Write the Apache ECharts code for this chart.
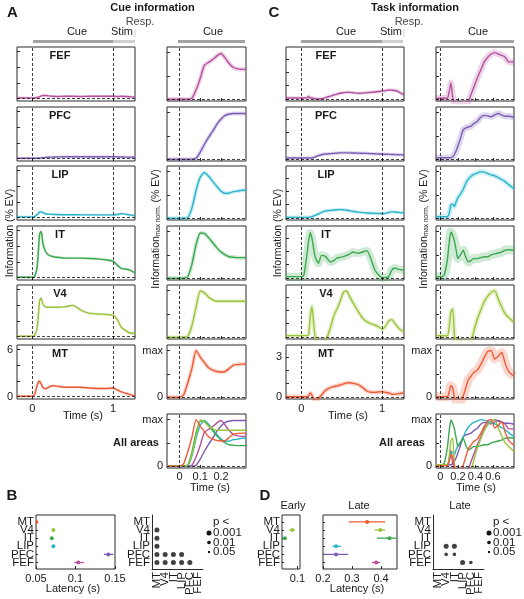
<!DOCTYPE html>
<html>
<head>
<meta charset="utf-8">
<script src="https://cdn.jsdelivr.net/npm/echarts@6.0.0/dist/echarts.min.js"></script>
<style>
html,body{margin:0;padding:0;background:#fff;}
#chart{width:524px;height:599px;}
</style>
</head>
<body>
<div id="chart"></div>
<script>
// ================= DATA =================
const areaNames = ['FEF','PFC','LIP','IT','V4','MT'];            // panel rows, top -> bottom
const areaColors = ['#b5509d','#7a5cb5','#2bb5cb','#3aa84f','#9bc43c','#ee5a36'];
const latencyAreas = ['MT','V4','IT','LIP','PFC','FEF'];         // latency / matrix rows
const latencyColors = ['#ee5a36','#9bc43c','#3aa84f','#2bb5cb','#7a5cb5','#b5509d'];

// --- Cue information, full trial (% EV)
const cueLongT   = [-0.19,0,0.03,0.06,0.09,0.11,0.13,0.16,0.2,0.25,0.3,0.4,0.5,0.6,0.7,0.8,0.9,1.0,1.05,1.1,1.15,1.2,1.27];
const cueLongFEF = [0.1,0.1,0.1,0.15,0.25,0.35,0.4,0.4,0.35,0.3,0.28,0.3,0.3,0.28,0.3,0.3,0.3,0.3,0.28,0.3,0.28,0.25,0.2];
const cueLongPFC = [0.05,0.05,0.05,0.05,0.08,0.1,0.12,0.15,0.18,0.2,0.22,0.25,0.25,0.25,0.25,0.25,0.25,0.25,0.22,0.22,0.2,0.2,0.18];
const cueLongLIP = [0.1,0.1,0.15,0.4,0.7,0.75,0.65,0.5,0.45,0.42,0.4,0.38,0.38,0.36,0.36,0.35,0.35,0.35,0.4,0.5,0.45,0.35,0.25];
const cueLongIT  = [0.05,0.05,0.2,1.4,5.6,5.9,4.4,3.4,2.9,2.7,2.6,2.5,2.5,2.5,2.45,2.4,2.3,2.1,1.6,1.2,1.1,1.0,0.6];
const cueLongV4  = [0.05,0.05,0.2,1.2,4.6,4.9,4.2,3.8,3.75,3.75,3.75,3.8,4.0,3.4,3.0,2.9,2.85,2.75,2.2,1.2,0.8,0.5,0.4];
const cueLongMT  = [0.05,0.05,0.3,1.5,2.0,1.6,1.2,1.0,1.2,1.4,1.35,1.2,1.2,1.2,1.1,1.05,1.05,1.1,0.85,0.6,0.45,0.3,0.1];

// --- Cue information, cue epoch (max-normalised)
const cueShortT   = [-0.06,0,0.02,0.04,0.06,0.08,0.1,0.12,0.14,0.16,0.18,0.2,0.22,0.24,0.26,0.28,0.3,0.32];
const cueShortFEF = [0,0,0,0,0.02,0.2,0.45,0.73,0.79,0.85,0.93,0.98,0.88,0.76,0.68,0.65,0.64,0.64];
const cueShortPFC = [0,0,0,0,0,0.02,0.15,0.32,0.47,0.6,0.75,0.86,0.94,0.97,0.98,0.98,0.98,0.98];
const cueShortLIP = [0,0,0,0.01,0.22,0.6,0.88,0.98,0.9,0.79,0.68,0.58,0.53,0.54,0.57,0.58,0.6,0.6];
const cueShortIT  = [0,0,0,0.03,0.3,0.72,0.97,0.96,0.87,0.76,0.65,0.56,0.5,0.46,0.45,0.44,0.44,0.44];
const cueShortV4  = [0,0,0,0.02,0.25,0.65,0.99,0.95,0.86,0.8,0.77,0.77,0.77,0.77,0.77,0.77,0.77,0.77];
const cueShortMT  = [0,0,0.05,0.31,0.62,1.0,0.86,0.74,0.63,0.58,0.55,0.54,0.55,0.62,0.69,0.7,0.71,0.71];

// --- Task information, full trial (% EV)
const taskLongT   = [-0.19,0,0.03,0.07,0.09,0.11,0.13,0.15,0.17,0.21,0.25,0.3,0.36,0.4,0.44,0.48,0.52,0.56,0.6,0.64,0.7,0.76,0.81,0.86,0.91,0.96,1.0,1.04,1.08,1.12,1.16,1.2,1.27];
const taskLongFEF = [0.07,0.07,0.07,0.08,0.2,0.07,0.08,0.05,0.03,0.0,0.02,0.1,0.22,0.3,0.37,0.43,0.47,0.5,0.5,0.47,0.43,0.44,0.48,0.5,0.52,0.56,0.6,0.62,0.68,0.66,0.64,0.55,0.3];
const taskLongPFC = [0.07,0.07,0.07,0.07,0.07,0.07,0.08,0.1,0.15,0.25,0.32,0.37,0.4,0.42,0.44,0.46,0.46,0.46,0.46,0.45,0.44,0.43,0.42,0.4,0.39,0.38,0.37,0.36,0.35,0.34,0.33,0.32,0.3];
const taskLongLIP = [0.05,0.05,0.05,0.05,0.05,0.06,0.1,0.15,0.2,0.3,0.42,0.53,0.57,0.6,0.62,0.63,0.62,0.58,0.54,0.5,0.44,0.4,0.38,0.36,0.35,0.34,0.34,0.35,0.42,0.46,0.45,0.42,0.39];
const taskLongIT  = [0.1,0.1,0.2,1.8,2.8,3.4,3.0,2.3,1.6,1.1,1.7,1.6,1.2,1.3,1.5,1.55,1.6,1.7,1.8,1.95,1.85,1.95,2.05,1.45,0.6,0.2,0.0,0.05,0.1,0.6,0.75,0.65,0.6];
const taskLongV4  = [0.1,0.1,0.1,0.1,0.2,1.5,2.3,1.2,0.1,-0.5,-0.5,-0.3,0.7,1.56,2.1,2.66,3.35,3.45,3.0,2.56,1.95,1.4,1.15,1.0,0.9,0.75,0.59,0.8,1.2,1.3,1.0,0.7,0.34];
const taskLongMT  = [0.02,0.02,0.02,0.02,0.1,0.3,0.15,-0.2,-0.3,-0.1,0.15,0.5,0.7,0.78,0.83,0.9,0.98,1.05,1.07,1.02,0.95,0.7,0.45,0.36,0.35,0.38,0.4,0.35,0.3,0.22,0.2,0.25,0.3];

// --- Task information, cue epoch (max-normalised)
const taskShortT   = [-0.05,0,0.04,0.08,0.1,0.12,0.14,0.16,0.18,0.2,0.23,0.26,0.29,0.32,0.35,0.38,0.42,0.46,0.5,0.54,0.58,0.62,0.66,0.7,0.74,0.78,0.84];
const taskShortFEF = [0.02,0.02,0.02,0.02,0.15,0.35,0.05,-0.1,-0.1,-0.1,-0.1,-0.1,-0.1,-0.05,0.1,0.25,0.45,0.62,0.8,0.9,0.97,1.0,0.97,0.94,0.9,0.8,0.8];
const taskShortPFC = [0.03,0.03,0.03,0.03,0.03,0.03,0.05,0.1,0.18,0.28,0.45,0.63,0.67,0.69,0.71,0.76,0.81,0.9,0.94,0.93,0.91,0.95,0.98,0.95,0.92,0.92,0.9];
const taskShortLIP = [0.03,0.03,0.03,0.03,0.1,0.28,0.3,0.25,0.35,0.44,0.52,0.62,0.75,0.84,0.9,0.94,0.97,1.0,0.99,0.96,0.93,0.91,0.87,0.83,0.78,0.72,0.63];
const taskShortIT  = [0.03,0.03,0.05,0.4,0.75,0.99,0.92,0.8,0.6,0.42,0.5,0.6,0.45,0.35,0.38,0.42,0.42,0.44,0.46,0.46,0.5,0.52,0.54,0.56,0.6,0.61,0.6];
const taskShortV4  = [0.03,0.03,0.03,0.03,0.2,0.55,0.6,0.05,-0.1,-0.1,-0.1,-0.1,-0.1,-0.1,-0.1,0.12,0.38,0.58,0.76,0.88,0.96,1.0,0.82,0.65,0.5,0.42,0.31];
const taskShortMT  = [0.01,0.01,0.01,0.01,0.1,0.25,0.2,0.0,-0.1,-0.1,-0.1,0.02,0.2,0.38,0.45,0.53,0.58,0.7,0.85,0.98,1.0,0.82,0.88,0.96,0.72,0.55,0.45];

// --- Latencies (s): order of latencyAreas
const cueLatency     = [0.0505,0.072,0.070,0.072,0.1415,0.1035];
const cueLatencyLo   = [0.0500,0.0712,0.0692,0.0712,0.136,0.0985];
const cueLatencyHi   = [0.0510,0.0728,0.0708,0.0728,0.148,0.1105];
const earlyLatency   = [null,0.082,0.057,null,null,null];
const earlyLatencyLo = [null,0.072,0.053,null,null,null];
const earlyLatencyHi = [null,0.091,0.061,null,null,null];
const lateLatency    = [0.352,0.397,0.429,0.245,0.245,0.383];
const lateLatencyLo  = [0.289,0.377,0.386,0.232,0.202,0.369];
const lateLatencyHi  = [0.414,0.414,0.47,0.262,0.287,0.397];

// --- Significance matrices: [columnArea, rowArea, level] (level 1: p<0.001, 2: p<0.01, 3: p<0.05)
const cueSignificance  = [[0,1,1],[0,2,1],[0,3,1],[0,4,1],[1,4,1],[2,4,1],[3,4,1],[0,5,1],[1,5,1],[2,5,1],[3,5,1],[4,5,1]];
const taskSignificance = [[1,3,1],[2,3,1],[1,4,2],[2,4,2],[3,5,1],[4,5,2]];
const pLevels = ['0.001','0.01','0.05'];

// ================= LAYOUT / STYLE =================
const FONT = "'Liberation Sans', Arial, Helvetica, sans-serif";
const NARROW = "'Liberation Sans Narrow', 'Liberation Sans', Arial, sans-serif";
const INK = '#1a1a1a';
const BORDER = '#2a2a2a';
const rowTops = [47,107,166,226,285,345];
const rowH = 54;
const allTop = 414;
const cols = [{left:17,width:118},{left:167,width:79},{left:286,width:118},{left:436,width:78}];
const dotSizes = [5,3.6,2.4];

const grids = [], xAxes = [], yAxes = [], series = [], graphic = [];

function baseAxis(extra){
  return Object.assign({type:'value', splitLine:{show:false}, axisLine:{show:false,onZero:false}, axisTick:{show:false}, axisLabel:{show:false}}, extra);
}
function addGrid(left, top, width, height, showBorder, xa, ya){
  const gi = grids.length;
  grids.push({left, top, width, height, show:showBorder, borderColor:BORDER, borderWidth:1,
              backgroundColor:'rgba(0,0,0,0)', containLabel:false, outerBoundsMode:'none'});
  xAxes.push(Object.assign(baseAxis(xa), {gridIndex:gi, position:'bottom'}));
  yAxes.push(Object.assign(baseAxis(ya), {gridIndex:gi, position:'left'}));
  return gi;
}
function ticks(vals, len){ return {show:true, inside:true, length:len||3, customValues:vals, lineStyle:{color:BORDER,width:1}}; }
function labels(vals, fmt, extra){
  return Object.assign({show:true, customValues:vals, formatter:fmt, fontSize:11, fontFamily:FONT, color:INK, margin:4,
                        showMinLabel:true, showMaxLabel:true, hideOverlap:false}, extra||{});
}
const fmtNum = v => String(parseFloat(Number(v).toFixed(3)));
const fmtMax = v => (v > 0.5 ? 'max' : '0');

function refLines(vx){
  return {silent:true, symbol:['none','none'], animation:false, label:{show:false},
          lineStyle:{color:'#111', type:[3,2], width:0.8},
          data: vx.map(x => ({xAxis:x})).concat([{yAxis:0}])};
}
function addCurve(gi, t, v, color, bandW, vlines){
  const data = t.map((x,i) => [x, v[i]]);
  if (bandW) series.push({type:'line', xAxisIndex:gi, yAxisIndex:gi, data, symbol:'none', smooth:0.2,
      silent:true, animation:false, z:1, lineStyle:{color, width:bandW, opacity:0.24, cap:'butt', join:'round'}});
  const s = {type:'line', xAxisIndex:gi, yAxisIndex:gi, data, symbol:'none', smooth:0.2,
      silent:true, animation:false, z:3, lineStyle:{color, width:1.4, join:'round'}, itemStyle:{color}};
  if (vlines) s.markLine = refLines(vlines);
  series.push(s);
}

const timePanels = [
  {col:0, t:cueLongT, v:[cueLongFEF,cueLongPFC,cueLongLIP,cueLongIT,cueLongV4,cueLongMT],
   xr:[-0.19,1.27], yr:[-0.3,6.6], xTicks:[0,1], yTicks:[0,2,4,6], yLabels:[0,6], yFmt:fmtNum,
   vlines:[0,1], band:[2.5,2.5,2.5,2.5,2.5,2.5], long:true},
  {col:1, t:cueShortT, v:[cueShortFEF,cueShortPFC,cueShortLIP,cueShortIT,cueShortV4,cueShortMT],
   xr:[-0.06,0.32], yr:[-0.04,1.12], xTicks:[0,0.1,0.2], yTicks:[0,0.5,1], yLabels:[0,1], yFmt:fmtMax,
   vlines:[0], band:[4.5,4,4,4,4,4], long:false},
  {col:2, t:taskLongT, v:[taskLongFEF,taskLongPFC,taskLongLIP,taskLongIT,taskLongV4,taskLongMT],
   xr:[-0.19,1.27], yr:[-0.15,3.9], xTicks:[0,1], yTicks:[0,1,2,3], yLabels:[0,3], yFmt:fmtNum,
   vlines:[0,1], band:[3.5,3.5,3.5,8,4.5,4.5], long:true},
  {col:3, t:taskShortT, v:[taskShortFEF,taskShortPFC,taskShortLIP,taskShortIT,taskShortV4,taskShortMT],
   xr:[-0.05,0.84], yr:[-0.04,1.12], xTicks:[0,0.2,0.4,0.6], yTicks:[0,0.5,1], yLabels:[0,1], yFmt:fmtMax,
   vlines:[0], band:[6.5,6.5,5,9,5,9], long:false}
];

timePanels.forEach(p => {
  const c = cols[p.col];
  areaNames.forEach((name, r) => {
    const last = r === areaNames.length - 1;
    const gi = addGrid(c.left, rowTops[r], c.width, rowH, true,
      {min:p.xr[0], max:p.xr[1], axisTick:ticks(p.xTicks),
       axisLabel:(last && p.long) ? labels(p.xTicks, fmtNum) : {show:false}},
      {min:p.yr[0], max:p.yr[1], axisTick:ticks(p.yTicks),
       axisLabel:last ? labels(p.yLabels, p.yFmt) : {show:false}});
    addCurve(gi, p.t, p.v[r], areaColors[r], p.band[r], p.vlines);
  });
  if (!p.long) {
    const gi = addGrid(c.left, allTop, c.width, rowH, true,
      {min:p.xr[0], max:p.xr[1], axisTick:ticks(p.xTicks), axisLabel:labels(p.xTicks, fmtNum, {margin:3})},
      {min:p.yr[0], max:p.yr[1], axisTick:ticks(p.yTicks), axisLabel:labels(p.yLabels, p.yFmt)});
    areaNames.forEach((name, r) => addCurve(gi, p.t, p.v[r], areaColors[r], 0, r === 0 ? p.vlines : null));
  }
});

// ---- latency plots
const catIdx = [0,1,2,3,4,5];
const catFmt = v => (Number.isInteger(v) && latencyAreas[v]) ? latencyAreas[v] : ' ';
// padding entries (blank) at both ends keep every area name visible
const catLabel = (pad, extra) => labels([pad[0]].concat(catIdx, [pad[1]]), catFmt,
  Object.assign({fontFamily:NARROW, fontSize:11.5, margin:2, showMinLabel:null, showMaxLabel:null}, extra || {}));
const latY = (showLabels) => ({min:-0.85, max:5.8, inverse:true, axisTick:ticks(catIdx,2),
  axisLabel: showLabels ? catLabel([-0.8,5.75]) : {show:false}});

function addLatency(gi, vals, lo, hi){
  const data = [];
  latencyAreas.forEach((a,i) => { if (vals[i] != null) data.push({value:[vals[i], i, lo[i], hi[i]], itemStyle:{color:latencyColors[i]}}); });
  series.push({type:'custom', xAxisIndex:gi, yAxisIndex:gi, data, clip:true, silent:true, animation:false, z:4,
    renderItem:(params, api) => {
      const y = api.value(1);
      const p0 = api.coord([api.value(2), y]), p1 = api.coord([api.value(3), y]), c = api.coord([api.value(0), y]);
      const col = api.visual('color');
      return {type:'group', children:[
        {type:'line', shape:{x1:p0[0], y1:p0[1], x2:p1[0], y2:p1[1]}, style:{stroke:col, lineWidth:1.3}},
        {type:'circle', shape:{cx:c[0], cy:c[1], r:2}, style:{fill:col}}
      ]};
    }});
}
let g;
g = addGrid(36, 515, 79, 54, true,
  {min:0.05, max:0.15, axisTick:ticks([0.05,0.1,0.15]), axisLabel:labels([0.05,0.1,0.15], fmtNum, {margin:4})}, latY(true));
addLatency(g, cueLatency, cueLatencyLo, cueLatencyHi);
g = addGrid(282, 515, 18, 54, true,
  {min:0.047, max:0.109, axisTick:ticks([0.1]), axisLabel:labels([0.1], fmtNum, {margin:4})}, latY(true));
addLatency(g, earlyLatency, earlyLatencyLo, earlyLatencyHi);
g = addGrid(323, 515, 74, 54, true,
  {min:0.2, max:0.455, axisTick:ticks([0.2,0.3,0.4]), axisLabel:labels([0.2,0.3,0.4], fmtNum, {margin:4})}, latY(false));
addLatency(g, lateLatency, lateLatencyLo, lateLatencyHi);

// ---- significance matrices
function addMatrix(left, sig){
  const gi = addGrid(left, 515, 51, 54, false,
    {min:-0.6, max:5.6, axisLine:{show:true, onZero:false, lineStyle:{color:BORDER, width:1}},
     axisLabel:catLabel([-0.55,5.55], {rotate:90, margin:3})},
    {min:-0.85, max:5.8, inverse:true, axisLine:{show:true, onZero:false, lineStyle:{color:BORDER, width:1}},
     axisLabel:catLabel([-0.8,5.75])});
  series.push({type:'scatter', xAxisIndex:gi, yAxisIndex:gi, silent:true, animation:false,
    data: sig.map(s => ({value:[s[0], s[1]], symbolSize:dotSizes[s[2]-1]})),
    itemStyle:{color:'#111'}});
}
addMatrix(152, cueSignificance);
addMatrix(433, taskSignificance);

// ================= TEXT / DECORATION =================
function txt(x, y, s, o){
  o = o || {};
  const st = {text:s, fill:o.color || INK, fontSize:o.size || 11, fontFamily:o.family || FONT,
              fontWeight:o.bold ? 'bold' : 'normal', align:o.align || 'center', verticalAlign:'middle',
              textAlign:o.align || 'center', textVerticalAlign:'middle'};
  if (o.rich) st.rich = o.rich;
  graphic.push({type:'text', x, y, rotation:o.rot || 0, silent:true, z:10, style:st});
}
function rect(x, y, w, h, fill){ graphic.push({type:'rect', silent:true, z:5, shape:{x, y, width:w, height:h}, style:{fill}}); }
function dot(cx, cy, r){ graphic.push({type:'circle', silent:true, z:5, shape:{cx, cy, r}, style:{fill:'#111'}}); }

txt(12.5, 13, 'A', {bold:true, size:15});
txt(274, 13, 'C', {bold:true, size:15});
txt(12, 496, 'B', {bold:true, size:15});
txt(265, 496, 'D', {bold:true, size:15});
txt(152.5, 8, 'Cue information', {bold:true});
txt(415, 8, 'Task information', {bold:true});

const DARK = '#a2a2a2', LIGHT = '#cfcfcf';
rect(33, 40, 80, 3, DARK);  rect(113, 40, 22, 3, LIGHT);  rect(134.5, 29, 1, 8, LIGHT);
rect(178, 40, 67, 3, DARK);
rect(301, 40, 81, 3, DARK); rect(382, 40, 21, 3, LIGHT); rect(403.5, 29, 1, 8, LIGHT);
rect(440, 40, 74, 3, DARK);
txt(77, 32, 'Cue'); txt(122, 32, 'Stim'); txt(140, 22, 'Resp.', {color:'#444'}); txt(213, 32, 'Cue');
txt(346, 32, 'Cue'); txt(391, 32, 'Stim'); txt(409, 22, 'Resp.', {color:'#444'}); txt(478, 32, 'Cue');

areaNames.forEach((n, r) => { txt(60, rowTops[r] + 8.5, n, {bold:true}); txt(326, rowTops[r] + 8.5, n, {bold:true}); });
txt(136, 443, 'All areas', {bold:true});
txt(402, 443, 'All areas', {bold:true});

txt(83, 416, 'Time (s)'); txt(348, 416, 'Time (s)');
txt(210, 488, 'Time (s)'); txt(476, 488, 'Time (s)');

txt(10, 233, 'Information (% EV)', {rot:Math.PI/2, size:10.5});
txt(278, 233, 'Information (% EV)', {rot:Math.PI/2, size:10.5});
const subRich = {s:{fontSize:6.5, fontFamily:FONT, fill:INK, verticalAlign:'bottom', padding:[4,0,0,0]}};
txt(156, 229, 'Information{s|max norm.} (% EV)', {rot:Math.PI/2, size:10.5, rich:subRich});
txt(424, 229, 'Information{s|max norm.} (% EV)', {rot:Math.PI/2, size:10.5, rich:subRich});

txt(73, 589, 'Latency (s)'); txt(357, 589, 'Latency (s)');
txt(293, 506, 'Early'); txt(359, 506, 'Late'); txt(460, 506, 'Late');

function pLegend(x){
  txt(x + 4, 522, 'p <', {align:'left', size:11.5, family:NARROW});
  pLevels.forEach((p, i) => {
    const y = 533 + i * 9.5;
    dot(x, y, dotSizes[i] / 2);
    txt(x + 4, y, p, {align:'left', size:11.5, family:NARROW});
  });
}
pLegend(209);
pLegend(489);

// ================= RENDER =================
const chart = echarts.init(document.getElementById('chart'), null, {renderer:'canvas'});
chart.setOption({
  animation:false,
  backgroundColor:'#ffffff',
  grid:grids, xAxis:xAxes, yAxis:yAxes, series,
  graphic:graphic
});
</script>
</body>
</html>
